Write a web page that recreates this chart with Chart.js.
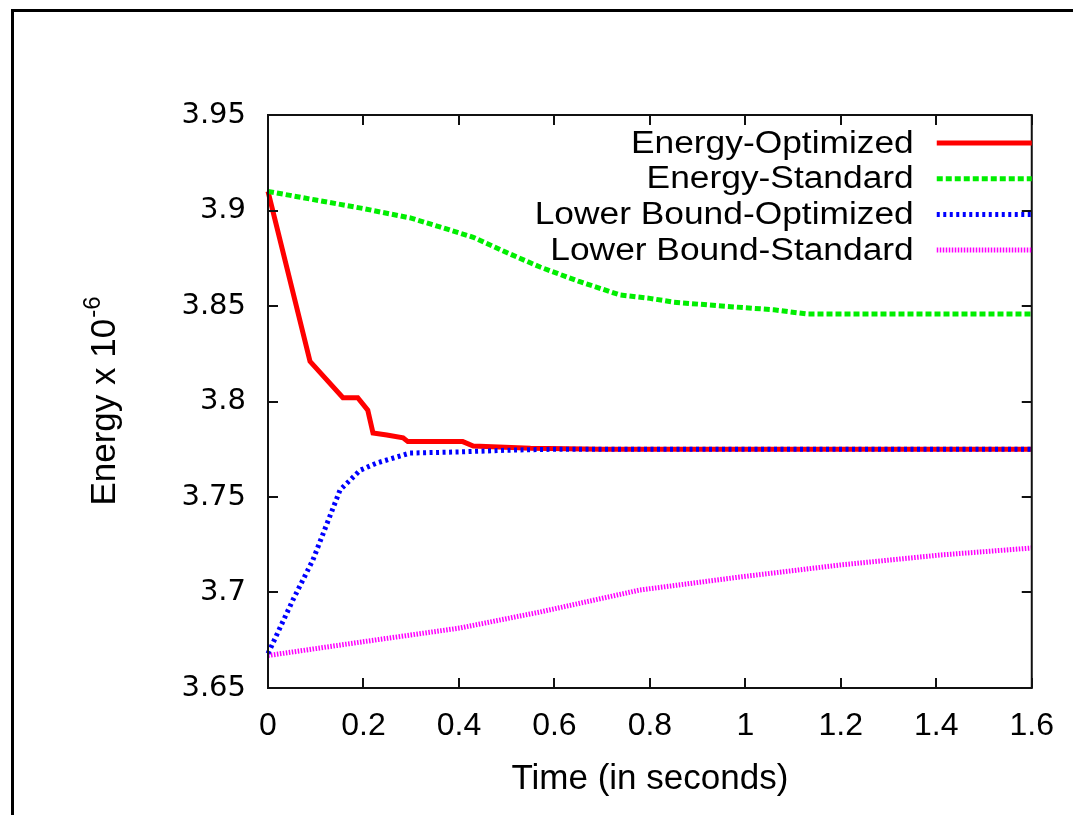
<!DOCTYPE html>
<html>
<head>
<meta charset="utf-8">
<title>Energy vs time</title>
<script src="https://cdn.jsdelivr.net/npm/chart.js@4.4.1/dist/chart.umd.min.js"></script>
<style>
  html, body { margin: 0; padding: 0; background: #fff; }
  canvas { display: block; }
</style>
</head>
<body>
<canvas id="myChart" width="1073" height="815"></canvas>
<script>
// values (energy in units of 1e-6)
const seriesNames = ["Energy-Optimized", "Energy-Standard", "Lower Bound-Optimized", "Lower Bound-Standard"];

const optTime = [0, 0.088, 0.157, 0.188, 0.209, 0.22, 0.249, 0.283, 0.293, 0.408, 0.43, 0.55, 0.7, 1.0, 1.3, 1.6];
const optEnergy = [3.91, 3.821, 3.802, 3.802, 3.7955, 3.7835, 3.7825, 3.781, 3.779, 3.779, 3.7767, 3.7755, 3.775, 3.775, 3.775, 3.775];

const stdTime = [0, 0.1, 0.2, 0.3, 0.36, 0.43, 0.5, 0.57, 0.65, 0.737, 0.8, 0.85, 0.95, 1.06, 1.13, 1.3, 1.6];
const stdEnergy = [3.91, 3.9055, 3.901, 3.896, 3.8914, 3.886, 3.878, 3.8704, 3.863, 3.8558, 3.854, 3.852, 3.85, 3.848, 3.8458, 3.8458, 3.8458];

const lbOptTime = [0, 0.052, 0.094, 0.151, 0.193, 0.228, 0.297, 0.402, 0.5, 0.6, 1.0, 1.6];
const lbOptEnergy = [3.668, 3.696, 3.717, 3.7537, 3.764, 3.7678, 3.773, 3.7736, 3.7745, 3.775, 3.775, 3.775];

const lbStdTime = [0, 0.193, 0.402, 0.57, 0.779, 0.988, 1.198, 1.407, 1.6];
const lbStdEnergy = [3.667, 3.674, 3.6814, 3.6898, 3.7013, 3.7081, 3.7144, 3.7196, 3.7233];

const xTicks = [0, 0.2, 0.4, 0.6, 0.8, 1, 1.2, 1.4, 1.6];
const xTickLabels = ["0", "0.2", "0.4", "0.6", "0.8", "1", "1.2", "1.4", "1.6"];
const yTicks = [3.65, 3.7, 3.75, 3.8, 3.85, 3.9, 3.95];
const yTickLabels = ["3.65", "3.7", "3.75", "3.8", "3.85", "3.9", "3.95"];

const FONT = "'Liberation Sans', Arial, Helvetica, sans-serif";

function toPoints(xs, ys) {
  return xs.map((x, i) => ({ x: x, y: ys[i] }));
}

// box, inward ticks, key, axis titles and page frame (gnuplot look)
const gnuplotLook = {
  id: "gnuplotLook",
  beforeDraw(chart) {
    const ctx = chart.ctx;
    ctx.save();
    ctx.fillStyle = "#ffffff";
    ctx.fillRect(0, 0, chart.width, chart.height);
    ctx.restore();
  },
  afterDraw(chart) {
    const ctx = chart.ctx;
    const a = chart.chartArea;
    const xs = chart.scales.x;
    const ys = chart.scales.y;

    ctx.save();
    ctx.strokeStyle = "#111";
    ctx.lineWidth = 2;
    ctx.strokeRect(a.left, a.top, a.right - a.left, a.bottom - a.top);

    const tl = 10;
    ctx.beginPath();
    xs.ticks.forEach((t) => {
      const px = Math.round(xs.getPixelForValue(t.value));
      ctx.moveTo(px, a.bottom);
      ctx.lineTo(px, a.bottom - tl);
      ctx.moveTo(px, a.top);
      ctx.lineTo(px, a.top + tl);
    });
    ys.ticks.forEach((t) => {
      const py = Math.round(ys.getPixelForValue(t.value));
      ctx.moveTo(a.left, py);
      ctx.lineTo(a.left + tl, py);
      ctx.moveTo(a.right, py);
      ctx.lineTo(a.right - tl, py);
    });
    ctx.stroke();

    // key, top right inside the plot (text a little wider than plain Arial)
    ctx.fillStyle = "#000";
    ctx.textBaseline = "middle";
    chart.data.datasets.forEach((ds, i) => {
      const rowY = a.top + 28 + i * 35.7;
      ctx.save();
      ctx.translate(a.right - 118, rowY + 1);
      ctx.scale(1.14, 1);
      ctx.font = "31px " + FONT;
      ctx.textAlign = "right";
      ctx.fillText(ds.label, 0, 0);
      ctx.restore();

      ctx.save();
      ctx.strokeStyle = ds.borderColor;
      ctx.lineWidth = ds.borderWidth;
      ctx.setLineDash(ds.borderDash || []);
      ctx.beginPath();
      ctx.moveTo(a.right - 95, rowY);
      ctx.lineTo(a.right, rowY);
      ctx.stroke();
      ctx.restore();
    });

    // x title
    ctx.font = "35px " + FONT;
    ctx.textAlign = "center";
    ctx.textBaseline = "alphabetic";
    ctx.fillText("Time (in seconds)", (a.left + a.right) / 2, 789);

    // y title with superscript
    const main = "Energy x 10";
    const sup = "-6";
    ctx.font = "35px " + FONT;
    const w1 = ctx.measureText(main).width;
    ctx.font = "24px " + FONT;
    const w2 = ctx.measureText(sup).width;
    const midY = (a.top + a.bottom) / 2;
    ctx.translate(115, midY + (w1 + w2) / 2);
    ctx.rotate(-Math.PI / 2);
    ctx.textAlign = "left";
    ctx.font = "35px " + FONT;
    ctx.fillText(main, 0, 0);
    ctx.font = "24px " + FONT;
    ctx.fillText(sup, w1 + 1, -15);
    ctx.restore();

    // page frame
    ctx.save();
    ctx.strokeStyle = "#000";
    ctx.lineWidth = 3;
    ctx.beginPath();
    ctx.moveTo(12.5, chart.height);
    ctx.lineTo(12.5, 10.5);
    ctx.lineTo(chart.width, 10.5);
    ctx.stroke();
    ctx.restore();
  },
};

document.addEventListener("DOMContentLoaded", function () {
  var ctx = document.getElementById("myChart").getContext("2d");

  var lineStyles = [
    { color: "#ff0000", dash: [] },
    { color: "#00ee00", dash: [6, 3] },
    { color: "#0000ff", dash: [3, 3.5] },
    { color: "#ff00ff", dash: [1.5, 1.5] },
  ];
  var seriesData = [
    toPoints(optTime, optEnergy),
    toPoints(stdTime, stdEnergy),
    toPoints(lbOptTime, lbOptEnergy),
    toPoints(lbStdTime, lbStdEnergy),
  ];

  var myChart = new Chart(ctx, {
    type: "line",
    data: {
      datasets: seriesNames.map((name, i) => ({
        label: name,
        data: seriesData[i],
        borderColor: lineStyles[i].color,
        borderDash: lineStyles[i].dash,
        borderWidth: 5,
        pointRadius: 0,
        tension: 0,
        fill: false,
        clip: false,
        order: seriesNames.length - i,
      })),
    },
    options: {
      responsive: false,
      devicePixelRatio: 1,
      animation: false,
      events: [],
      layout: {
        padding: { top: 115, right: 41, left: 0, bottom: 0 },
      },
      plugins: {
        legend: { display: false },
        tooltip: { enabled: false },
      },
      scales: {
        x: {
          type: "linear",
          min: 0,
          max: 1.6,
          afterBuildTicks: (scale) => {
            scale.ticks = xTicks.map((v) => ({ value: v }));
          },
          afterFit: (scale) => {
            scale.height = 127;
          },
          grid: { display: false, drawTicks: false },
          border: { display: false },
          ticks: {
            autoSkip: false,
            maxRotation: 0,
            padding: 19,
            color: "#000",
            font: { family: FONT, size: 32 },
            callback: (value, index) => xTickLabels[index],
          },
        },
        y: {
          type: "linear",
          min: 3.65,
          max: 3.95,
          afterBuildTicks: (scale) => {
            scale.ticks = yTicks.map((v) => ({ value: v }));
          },
          afterFit: (scale) => {
            scale.width = 268;
          },
          grid: { display: false, drawTicks: false },
          border: { display: false },
          ticks: {
            autoSkip: false,
            padding: 22,
            color: "#000",
            font: { family: "'DejaVu Sans', " + FONT, size: 29 },
            callback: (value, index) => yTickLabels[index],
          },
        },
      },
    },
    plugins: [gnuplotLook],
  });
});
</script>
</body>
</html>
